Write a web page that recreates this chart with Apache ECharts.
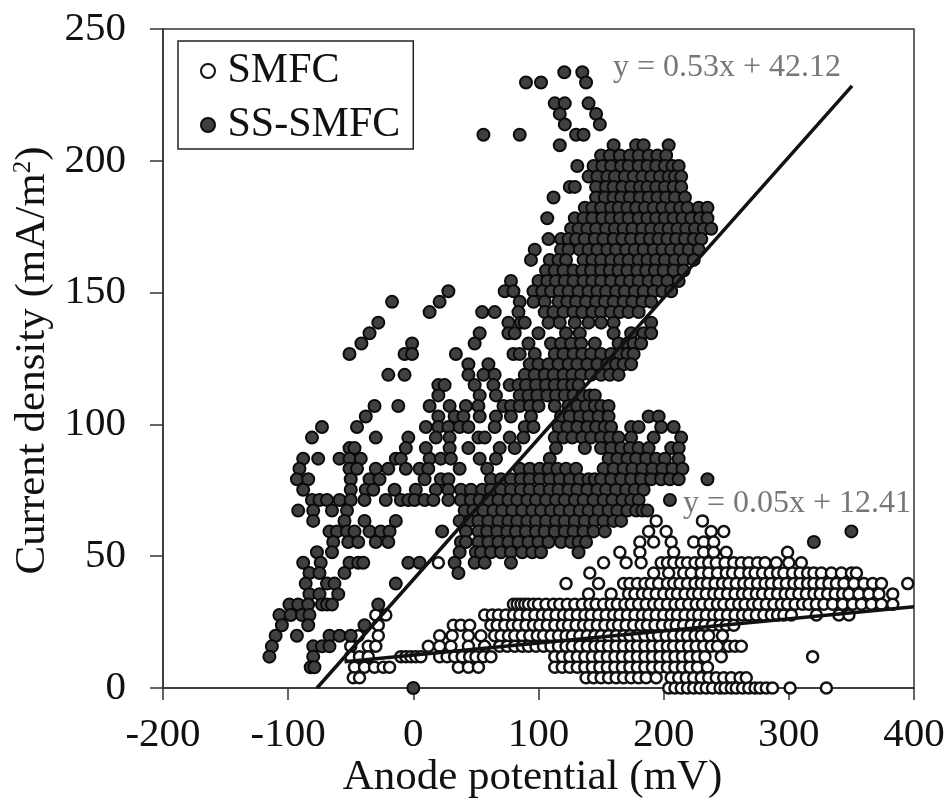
<!DOCTYPE html>
<html>
<head>
<meta charset="utf-8">
<style>html,body{margin:0;padding:0;background:#fff}#c{width:949px;height:803px}</style>
<script src="https://cdn.jsdelivr.net/npm/echarts@6/dist/echarts.min.js"></script>
</head>
<body>
<div id="c"></div>
<script>
const seriesNames = ['SMFC', 'SS-SMFC'];
const xTitle = 'Anode potential (mV)';
const yTitle = 'Current density (mA/m{s|2})';
const equationA = 'y = 0.53x + 42.12';
const equationB = 'y = 0.05x + 12.41';
const trendSS = [[-77, 0], [350.5, 228.4]];
const trendS = [[-55, 10], [400, 30.8]];

// Each row: [current density, [anode potentials read along that row]]
const ssRows = [
[233.6,[120.6,135]],
[229.7,[90,102,138]],
[221.8,[113,121,140]],
[217.8,[117,146]],
[213.8,[121,149]],
[209.9,[56,85,130,136]],
[205.9,[117,160,178,184,204]],
[202,[150,157,165,173,180,188,195,202]],
[198,[131,144,151,158,166,172,180,187,194,201,207,212]],
[194,[140,147,155,161,169,176,183,190,197,204,209,214]],
[190.1,[125,129,146,154,160,167,174,181,187,194,201,208,214]],
[186.1,[112,146,153,160,166,173,181,188,195,202,209,217]],
[182.2,[137,143,150,158,164,171,178,185,192,199,206,213,219,228,235]],
[178.2,[107,129,136,143,151,158,165,172,180,187,194,201,208,215,222,229,235]],
[174.2,[126,132,139,146,154,161,168,175,183,190,197,204,211,218,225,232,238]],
[170.3,[108,118,124,130,137,145,152,160,167,174,182,189,196,203,210,217,224,230]],
[166.3,[97,118,124,133,140,147,155,162,170,177,184,192,199,206,213,220,228]],
[162.4,[94,109,116,122,136,143,150,158,165,172,180,187,194,201,209,216,224]],
[158.4,[106,113,120,128,135,142,150,157,164,171,179,186,193,200,208,216]],
[154.4,[78,100,107,114,121,128,136,143,150,158,166,173,180,188,195,203,212]],
[150.5,[28,73,80,96,103,110,117,124,132,140,147,154,162,169,177,184,192,199,206]],
[146.5,[-17,21,85,96,105,116,123,130,138,146,153,160,168,175,183,190]],
[142.6,[13,55,65,84,105,112,120,128,135,143,150,158,165,172,180]],
[138.6,[-28,76,86,89,108,117,129,140,150,160,190]],
[134.6,[-35,53,76,81,100,122,133,160,174,184,190]],
[130.7,[-41.5,-1,49,92,110,118,126,134,145,164,171,176,182]],
[126.7,[-51,-7,-1,34,80,85,97,113,120,128,135,142,150,158,165,171,176]],
[122.8,[44,60,93,100,108,116,124,131,139,147,155,162,168,174]],
[118.8,[-20,-7,44,56,65,89,97,105,112,120,127,134,142,150,157,164]],
[114.9,[20,25,49,64,77,84,90,98,106,113,120,127,132]],
[111,[20,53,66,85,92,99,107,114,121,128,135,141,145]],
[107,[-31,-12,13,29,42,52,72,78,85,93,100,113,124,131,138,145,150,156]],
[103,[-38,20,33,40,53,66,78,94,118,125,133,140,148,156,188,196]],
[99,[-73,-45,10,20,28,37,44,65,89,96,116,123,131,139,146,153,158,174,180,198,208]],
[95,[-81,-30,-4,18,29,52,57,77,88,113,120,127,135,142,150,157,164,174,192,214]],
[91,[-51,-47,-6,10,29,44,69,81,114,137,150,158,166,173,180,188,206,212]],
[87,[-88,-76,-59,-51,-42,-14,-10,13,22,30,53,66,109,156,163,171,178,186,194,201,212]],
[83.2,[-91,-51,-45,-30,-20,-6,5,12,37,59,85,93,101,108,115,122,130,152,160,168,175,183,191,199,207,215]],
[79.2,[-93,-84,-50,-35,-27,9,22,28,62,70,78,86,93,101,109,117,125,133,140,145,150,158,166,174,182,190,198,205,212,235]],
[75.2,[-88,-50,-38,-32,-15,2,18,28,38,46,55,62,70,78,86,93,101,109,116,124,131,139,147,154,162,170,177,184]],
[71.3,[-81,-75,-69,-59,-50,-39,-22,-10,-4,1,9,16,28,38,46,53,60,68,76,83,91,98,106,114,121,129,136,144,152,159,167,174,180,205]],
[67.3,[-92,-80,-65,-53,41,48,56,64,71,79,87,95,102,110,117,125,133,140,148,156,163,171,178,183,187]],
[63.4,[-80,-55,-39,-14,37,45,52,60,68,76,83,91,98,106,114,121,129,137,145,152,160,166]],
[59.4,[-67,-61,-53,-47,-35,-26,-19,23,42,52,59,67,75,82,90,98,105,113,121,128,136,144,153,350]],
[55.4,[-64,-52,-44,-30,-20,38,42,52,60,68,76,84,92,100,108,118,126,132,138,320]],
[51.5,[-77,-65,37,50,54,62,70,78,87,95,102,132]],
[47.5,[-88,-74,-51,-44,-40,-4,5,33,49,57,78]],
[43.6,[-83,-75,-55,36]],
[39.6,[-86,-69,-63,-14]],
[35.6,[-83,-75,-60]],
[31.7,[-99,-92,-84,-73,-69,-65,-28]],
[27.7,[-107,-98,-89,-83]],
[23.8,[-105,-84,-39]],
[19.8,[-110,-93,-67,-59,-50]],
[15.8,[-113,-80,-73,-67]],
[11.9,[-115,-80]],
[7.9,[-82,-79]],
[0,[0]]
];

const smfcRows = [
[63.4,[194,231]],
[59.4,[188,202,238,248]],
[55.4,[181,192,206,224,232,240]],
[51.5,[165,181,208,232,240,250,299]],
[47.5,[20,152,170,182,198,203,208,214,219,225,230,236,242,249,256,262,268,275,281,290,300,310]],
[43.6,[141,192,204,216,222,230,236,243,250,255,261,268,273,279,285,291,296,303,309,315,320,326,334,342,350,354]],
[39.6,[122,148,168,173,179,185,190,196,203,208,213,219,225,230,235,241,247,252,258,264,269,275,281,286,292,298,304,309,315,320,326,332,338,344,352,360,367,374,395]],
[35.7,[140,158,172,177,183,188,194,200,206,211,217,223,228,234,240,245,251,257,263,268,274,279,285,291,297,302,308,314,320,325,331,337,343,348,356,364,372,383]],
[31.8,[80,83,86,89,92,96,100,106,112,117,123,129,135,141,146,152,158,163,169,174,180,186,192,197,203,209,214,220,226,231,237,243,248,254,260,265,271,276,282,288,294,299,305,311,316,322,328,335,343,351,358,366,374,383]],
[27.7,[-30,-22,57,63,68,74,80,85,91,97,103,108,114,120,125,131,137,142,148,154,160,165,171,177,183,188,194,200,206,211,217,223,228,234,240,245,251,257,263,268,274,280,286,291,296,302,322,340,348]],
[23.8,[-28,32,38,45,62,67,73,79,84,90,96,101,107,113,119,124,130,136,141,147,153,159,164,170,176,182,187,193,199,205,210,216,222,228,233,239,245,250,256]],
[19.8,[-44,-28,21,31,44,54,65,70,76,81,87,93,99,104,110,116,122,127,133,139,145,150,156,162,168,173,179,185,191,196,202,208,214,219,225,230,236,247]],
[15.8,[-50,-36,-30,12,21,30,44,57,69,75,81,87,92,98,104,110,116,122,127,133,139,145,150,156,162,168,174,179,185,191,197,203,208,214,220,226,232,238,243,252,257,262]],
[11.9,[-50,-43,-36,-10,-6,-2,2,6,21,27,33,39,45,50,56,62,113,119,125,131,137,143,149,155,161,167,173,179,185,191,197,203,209,215,221,227,233,246,319]],
[7.9,[-47,-39,-31,-24,-19,36,44,52,113,119,125,131,137,143,149,155,161,167,173,179,185,191,197,203,209,215,221,227,235]],
[3.9,[-48,-43,138,144,150,156,162,168,174,180,186,194,206,212,218,224,230,236,242,248,254,261,266]],
[0,[204,209,214,219,224,229,234,239,245,249,254,258,263,268,273,277,282,287,301,330]]
];

const flatten = rows => rows.flatMap(([y, xs]) => xs.map(x => [x, y]));
const serif = '"Liberation Serif","Times New Roman",serif';

const chart = echarts.init(document.getElementById('c'));
chart.setOption({
  backgroundColor: '#fff',
  animation: false,
  textStyle: { fontFamily: serif },
  grid: { left: 163, right: 35, top: 29, bottom: 115, outerBoundsMode: 'none', show: true, borderColor: '#333', borderWidth: 1.5, backgroundColor: 'transparent' },
  legend: {
    data: seriesNames,
    orient: 'vertical',
    left: 178, top: 41,
    padding: [9, 13, 3, 22],
    itemWidth: 29, itemHeight: 14, itemGap: 12,
    borderColor: '#222', borderWidth: 1.5,
    icon: 'circle',
    textStyle: { fontFamily: serif, fontSize: 42, color: '#111' }
  },
  xAxis: {
    type: 'value', min: -200, max: 400, interval: 100,
    name: xTitle, nameLocation: 'middle', nameGap: 68, nameMoveOverlap: false,
    nameTextStyle: { fontFamily: serif, fontSize: 43, color: '#111', padding: [0, 12, 0, 0] },
    axisLine: { onZero: false, lineStyle: { color: '#333', width: 1.5 } },
    axisTick: { length: 12, lineStyle: { color: '#333', width: 1.5 } },
    axisLabel: { fontFamily: serif, fontSize: 41, color: '#111', margin: 27, showMinLabel: true, showMaxLabel: true, hideOverlap: false },
    splitLine: { show: false }
  },
  yAxis: {
    type: 'value', min: 0, max: 250, interval: 50,
    name: yTitle, nameLocation: 'middle', nameGap: 109, nameRotate: 90, nameMoveOverlap: false,
    nameTextStyle: { fontFamily: serif, fontSize: 43, color: '#111', padding: [0, 4, 0, 0],
      rich: { s: { fontFamily: serif, fontSize: 25, color: '#111', verticalAlign: 'top', padding: [0, 0, 14, 0] } } },
    axisLine: { onZero: false, lineStyle: { color: '#333', width: 1.5 } },
    axisTick: { length: 13, lineStyle: { color: '#333', width: 1.5 } },
    axisLabel: { fontFamily: serif, fontSize: 41, color: '#111', margin: 37 },
    splitLine: { show: false }
  },
  series: [
    { name: seriesNames[0], type: 'scatter', clip: false, symbol: 'circle', symbolSize: 11, z: 2,
      itemStyle: { color: '#fff', borderColor: '#111', borderWidth: 2.5, opacity: 1 },
      data: flatten(smfcRows) },
    { name: seriesNames[1], type: 'scatter', clip: false, symbol: 'circle', symbolSize: 12, z: 3,
      itemStyle: { color: '#404040', borderColor: '#0a0a0a', borderWidth: 2, opacity: 1 },
      data: flatten(ssRows) },
    { type: 'line', data: trendSS, showSymbol: false, symbol: 'none', z: 4, lineStyle: { color: '#111', width: 3.5 } },
    { type: 'line', data: trendS, showSymbol: false, symbol: 'none', z: 4, lineStyle: { color: '#111', width: 3.5 } }
  ],
  graphic: [
    { type: 'text', left: 613, top: 52, z: 10, style: { text: equationA, fontFamily: serif, fontSize: 32, fill: '#777' } },
    { type: 'text', left: 683, top: 488, z: 10, style: { text: equationB, fontFamily: serif, fontSize: 32, fill: '#777' } }
  ]
});
</script>
</body>
</html>
